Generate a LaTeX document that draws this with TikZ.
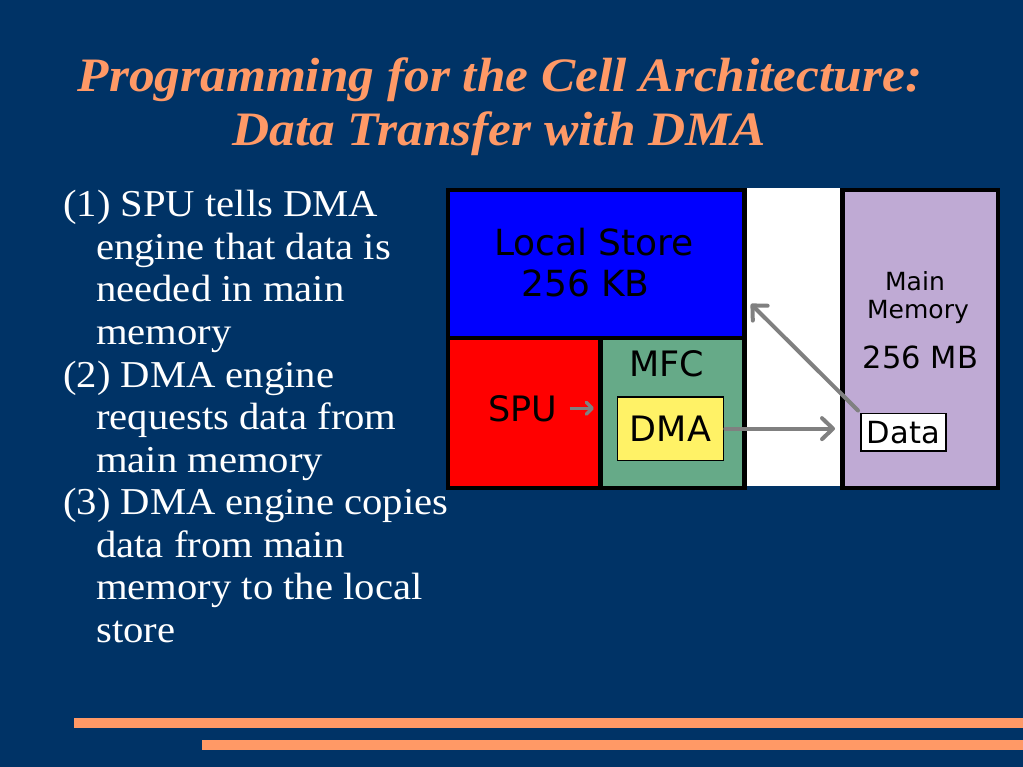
\documentclass[tikz,border=0pt]{standalone}
\usepackage{fontspec}
\usetikzlibrary{arrows.meta}

\newfontfamily\slidefont{Liberation Serif}[FakeStretch=1.07]
\newfontfamily\diagfont{DejaVu Sans}

\definecolor{slidebg}{RGB}{0,51,102}
\definecolor{salmon}{RGB}{255,153,102}
\definecolor{lsblue}{RGB}{0,0,255}
\definecolor{spured}{RGB}{255,0,0}
\definecolor{mfcgreen}{RGB}{102,170,136}
\definecolor{dmayellow}{RGB}{255,242,102}
\definecolor{memlilac}{RGB}{191,170,212}
\definecolor{arrowgray}{RGB}{128,128,128}

\begin{document}
\begin{tikzpicture}[x=1pt,y=-1pt,
  unit/.style={draw=black, line width=4.5pt, inner sep=0pt, anchor=north west},
  inbox/.style={draw=black, line width=1.8pt, inner sep=0pt, font=\diagfont\fontsize{35}{40}\selectfont},
  lbl/.style={inner sep=0pt, anchor=base, text=black},
  bodyline/.style={inner sep=0pt, anchor=base west, text=white, font=\slidefont\fontsize{38}{43}\selectfont},
  titleline/.style={inner sep=0pt, anchor=base, text=salmon, font=\slidefont\bfseries\itshape\fontsize{48}{54}\selectfont},
  flow/.style={draw=arrowgray, line width=4pt, line cap=round, -{Straight Barb[length=11pt,width=21pt,round]}},
  nudge/.style={draw=arrowgray, line width=3.5pt, -{Straight Barb[length=6pt,width=12pt,round]}}]

% Page and footer bars
\useasboundingbox[fill=slidebg] (0,0) rectangle (1023,767);
\fill[salmon] (74,718) rectangle (1023,728);
\fill[salmon] (202,740) rectangle (1023,749.5);

% Title
\node[titleline] (title1) at (500,92) {Programming for the Cell Architecture:};
\node[titleline] (title2) at (499,146) {Data Transfer with DMA};

% Steps, one line at a time
\foreach \x/\txt [count=\i] in {63/{(1) SPU tells DMA}, 96/{engine that data is},
    96/{needed in main}, 96/{memory}, 63/{(2) DMA engine}, 96/{requests data from},
    96/{main memory}, 63/{(3) DMA engine copies}, 96/{data from main},
    96/{memory to the local}, 96/{store}} {
  \node[bodyline] (step\i) at (\x,{217+42.5*(\i-1)}) {\txt};
}

% Gap between the SPE and main memory
\fill[white] (742,188) rectangle (840,485.5);

% SPE blocks
\node[unit, fill=lsblue, minimum width=296.5pt, minimum height=148pt] (ls) at (445.5,188) {};
\node[unit, fill=spured, minimum width=152.5pt, minimum height=149.5pt] (spu) at (445.5,336) {};
\node[unit, fill=mfcgreen, minimum width=144pt, minimum height=149.5pt] (mfc) at (598,336) {};
\node[inbox, fill=dmayellow, minimum width=106pt, minimum height=63.5pt, anchor=north west] (dma) at (616.5,396) {DMA};

% Main memory
\node[unit, fill=memlilac, minimum width=155.5pt, minimum height=297.5pt] (mem) at (840,188) {};
\node[inbox, fill=white, minimum width=85pt, minimum height=37.5pt, anchor=north west,
  font=\diagfont\fontsize{30.5}{34}\selectfont] (data) at (860,412.5) {Data};

% Labels
\node[lbl, font=\diagfont\fontsize{36}{40}\selectfont] (lsname) at (594,256) {Local Store};
\node[lbl, font=\diagfont\fontsize{36}{40}\selectfont] (lssize) at (585.5,297) {256 KB};
\node[lbl, font=\diagfont\fontsize{35}{40}\selectfont] (spulbl) at (523,421) {SPU};
\node[lbl, font=\diagfont\fontsize{35}{40}\selectfont] (mfclbl) at (667,376) {MFC};
\node[lbl, font=\diagfont\fontsize{25}{28}\selectfont] (memname) at (915,291) {Main};
\node[lbl, font=\diagfont\fontsize{25}{28}\selectfont] (memword) at (918,319) {Memory};
\node[lbl, font=\diagfont\fontsize{30.5}{34}\selectfont] (memsize) at (920.5,368) {256 MB};

% Transfers
\coordinate (lstip) at (751,304);
\draw[nudge, shorten <=12pt, shorten >=4pt] (spulbl.east) -- (spulbl.east -| mfc.west);
\draw[flow, shorten <=1pt, shorten >=5pt] (dma.east) -- (dma.east -| mem.west);
\draw[flow] ([xshift=-2pt,yshift=2pt]data.north west) -- (lstip);

\end{tikzpicture}
\end{document}
